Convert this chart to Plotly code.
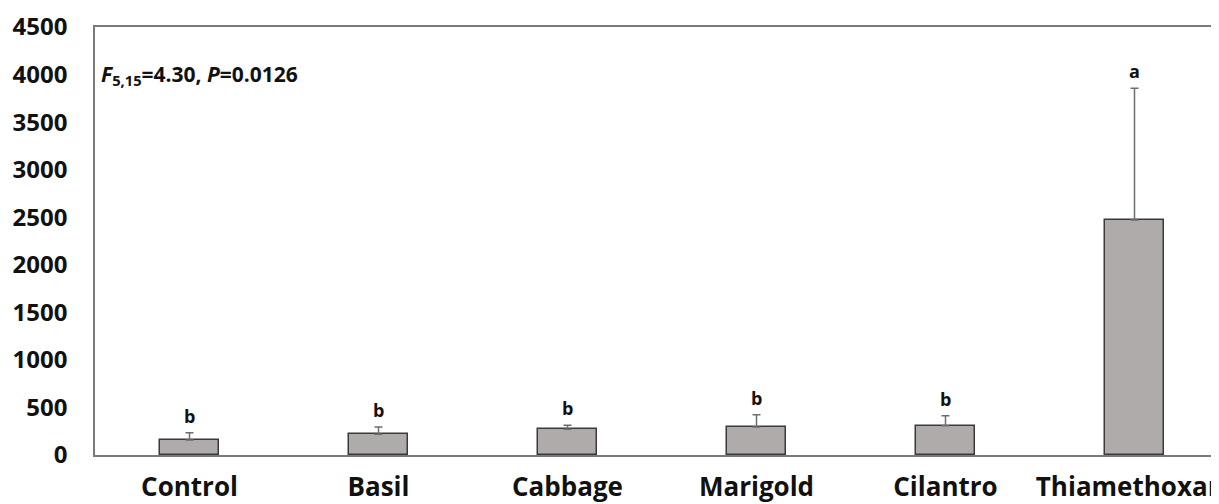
import plotly.graph_objects as go

categories = ["Control", "Basil", "Cabbage", "Marigold", "Cilantro", "Thiamethoxam"]
means = [158, 218, 270, 294, 308, 2471]
errors = [76, 76, 42, 130, 105, 1385]
letters = ["b", "b", "b", "b", "b", "a"]
stat_text = "<i>F</i><sub>5,15</sub>=4.30, <i>P</i>=0.0126"

FONT = "Open Sans"

fig = go.Figure()
fig.add_trace(go.Bar(
    x=categories, y=means, width=0.31,
    marker=dict(color="#b0abab", line=dict(color="#3a3a3a", width=1.5)),
    error_y=dict(type="data", array=errors, arrayminus=[0]*len(errors), symmetric=False,
                 color="#6e6e6e", thickness=1.5, width=4),
))

for c, m, e, l in zip(categories, means, errors, letters):
    fig.add_annotation(x=c, y=m + e, text=f"<b>{l}</b>", showarrow=False,
                       yanchor="bottom", yshift=3, font=dict(family=FONT, size=18, color="#111"))

fig.add_annotation(xref="paper", yref="paper", x=0.004, y=0.888, xanchor="left", yanchor="middle",
                   text=f"<b>{stat_text}</b>", showarrow=False,
                   font=dict(family=FONT, size=21, color="#111"))

fig.update_layout(
    width=1211, height=496,
    margin=dict(l=87, r=0, t=19, b=49),
    plot_bgcolor="white", paper_bgcolor="white",
    showlegend=False, bargap=0,
    xaxis=dict(range=[-0.5, 1124/189 - 0.5], showline=True, linecolor="#7a7a7a", linewidth=1.5,
               mirror=True, ticks="", showgrid=False, ticklabelstandoff=8, automargin=False,
               tickfont=dict(family=FONT, size=26, color="#111", weight="bold")),
    yaxis=dict(range=[0, 4500], dtick=500, showline=True, linecolor="#7a7a7a", linewidth=1.5,
               ticks="", showgrid=False, zeroline=False, ticklabelstandoff=21, automargin=False,
               tickfont=dict(family=FONT, size=24, color="#111", weight="bold")),
)

fig.write_html("out.html")
